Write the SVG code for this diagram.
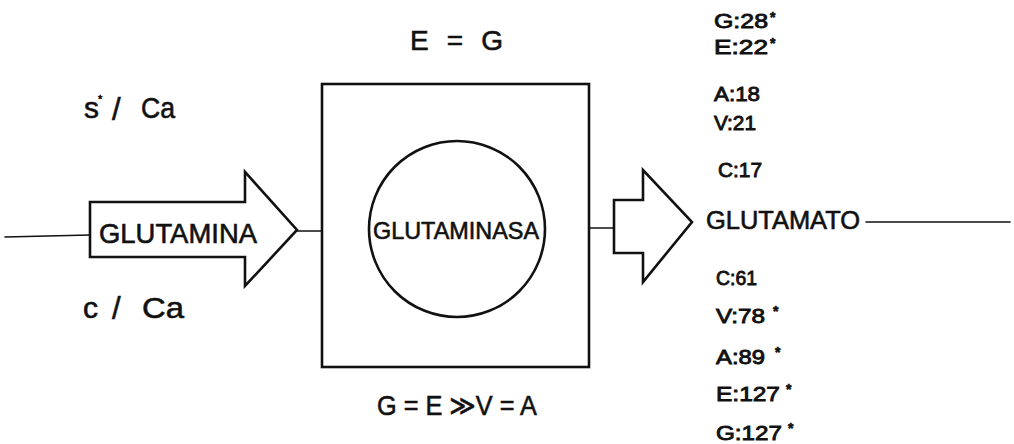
<svg xmlns="http://www.w3.org/2000/svg" width="1014" height="444" viewBox="0 0 1014 444">
  <style>
    .ln { stroke: #111; stroke-width: 1.6; fill: none; stroke-linecap: round; }
    .shp { stroke: #111; stroke-width: 2.6; fill: #fff; stroke-linejoin: miter; }
    .t { font-family: "Liberation Sans", "DejaVu Sans", sans-serif; fill: #111; stroke: #111; stroke-width: 0.6; }
    .lab { font-size: 21px; stroke-width: 0.9; }
    .big { font-size: 28px; }
    .ast { font-size: 14px; font-weight: bold; }
  </style>
  <rect width="1014" height="444" fill="#fff"/>

  <!-- connectors -->
  <g id="connectors">
    <line class="ln" x1="5" y1="237" x2="90" y2="235"/>
    <line class="ln" x1="297" y1="231" x2="322" y2="231"/>
    <line class="ln" x1="589" y1="228" x2="614" y2="228"/>
    <line class="ln" x1="866" y1="222" x2="1010" y2="222"/>
  </g>

  <!-- substrate arrow -->
  <g id="glutamina">
    <polygon class="shp" points="90,202 245,202 245,172 297,230 245,286 245,257 90,257"/>
    <text class="t" x="99" y="243" font-size="28" textLength="158" lengthAdjust="spacingAndGlyphs">GLUTAMINA</text>
  </g>

  <!-- enzyme box -->
  <g id="glutaminasa">
    <rect class="shp" x="322" y="84" width="267" height="283"/>
    <circle class="shp" cx="457" cy="229" r="88"/>
    <text class="t" x="373" y="239" font-size="24" textLength="166" lengthAdjust="spacingAndGlyphs">GLUTAMINASA</text>
  </g>

  <!-- product arrow -->
  <g id="glutamato">
    <polygon class="shp" points="614,200 643,200 643,170 692,222 643,282 643,253 614,253"/>
    <text class="t" x="706" y="229" font-size="25" textLength="154" lengthAdjust="spacingAndGlyphs">GLUTAMATO</text>
  </g>

  <!-- conditions -->
  <g id="sin-calcio">
    <text class="t" x="84" y="118" font-size="30">s</text>
    <text class="t" x="98" y="103" font-size="11">*</text>
    <text class="t" x="112" y="120" font-size="31">/</text>
    <text class="t" x="141" y="118" font-size="30" textLength="34" lengthAdjust="spacingAndGlyphs">Ca</text>
  </g>
  <g id="con-calcio">
    <text class="t" x="83" y="318" font-size="30">c</text>
    <text class="t" x="112" y="319" font-size="31">/</text>
    <text class="t" x="142" y="318" font-size="30" textLength="42" lengthAdjust="spacingAndGlyphs">Ca</text>
  </g>

  <!-- activity relations -->
  <g id="rel-top">
    <text class="t big" x="410" y="50" textLength="93" lengthAdjust="spacing">E = G</text>
  </g>
  <g id="rel-bottom">
    <text class="t big" x="377" y="415" textLength="160" lengthAdjust="spacingAndGlyphs">G = E ≫V = A</text>
  </g>

  <!-- values without calcium -->
  <g id="vals-top">
    <text class="t lab" x="714" y="28" textLength="54" lengthAdjust="spacingAndGlyphs">G:28</text>
    <text class="t ast" x="770" y="22">*</text>
    <text class="t lab" x="714" y="54" textLength="54" lengthAdjust="spacingAndGlyphs">E:22</text>
    <text class="t ast" x="770" y="48">*</text>
    <text class="t lab" x="714" y="101" textLength="46" lengthAdjust="spacingAndGlyphs">A:18</text>
    <text class="t lab" x="714" y="130" textLength="42" lengthAdjust="spacingAndGlyphs">V:21</text>
    <text class="t lab" x="718" y="177" textLength="44" lengthAdjust="spacingAndGlyphs">C:17</text>
  </g>

  <!-- values with calcium -->
  <g id="vals-bottom">
    <text class="t lab" x="716" y="285" textLength="41" lengthAdjust="spacingAndGlyphs">C:61</text>
    <text class="t lab" x="716" y="323" textLength="49" lengthAdjust="spacingAndGlyphs">V:78</text>
    <text class="t ast" x="773" y="316">*</text>
    <text class="t lab" x="716" y="364" textLength="49" lengthAdjust="spacingAndGlyphs">A:89</text>
    <text class="t ast" x="775" y="357">*</text>
    <text class="t lab" x="716" y="401" textLength="64" lengthAdjust="spacingAndGlyphs">E:127</text>
    <text class="t ast" x="786" y="394">*</text>
    <text class="t lab" x="716" y="440" textLength="66" lengthAdjust="spacingAndGlyphs">G:127</text>
    <text class="t ast" x="788" y="433">*</text>
  </g>
</svg>
